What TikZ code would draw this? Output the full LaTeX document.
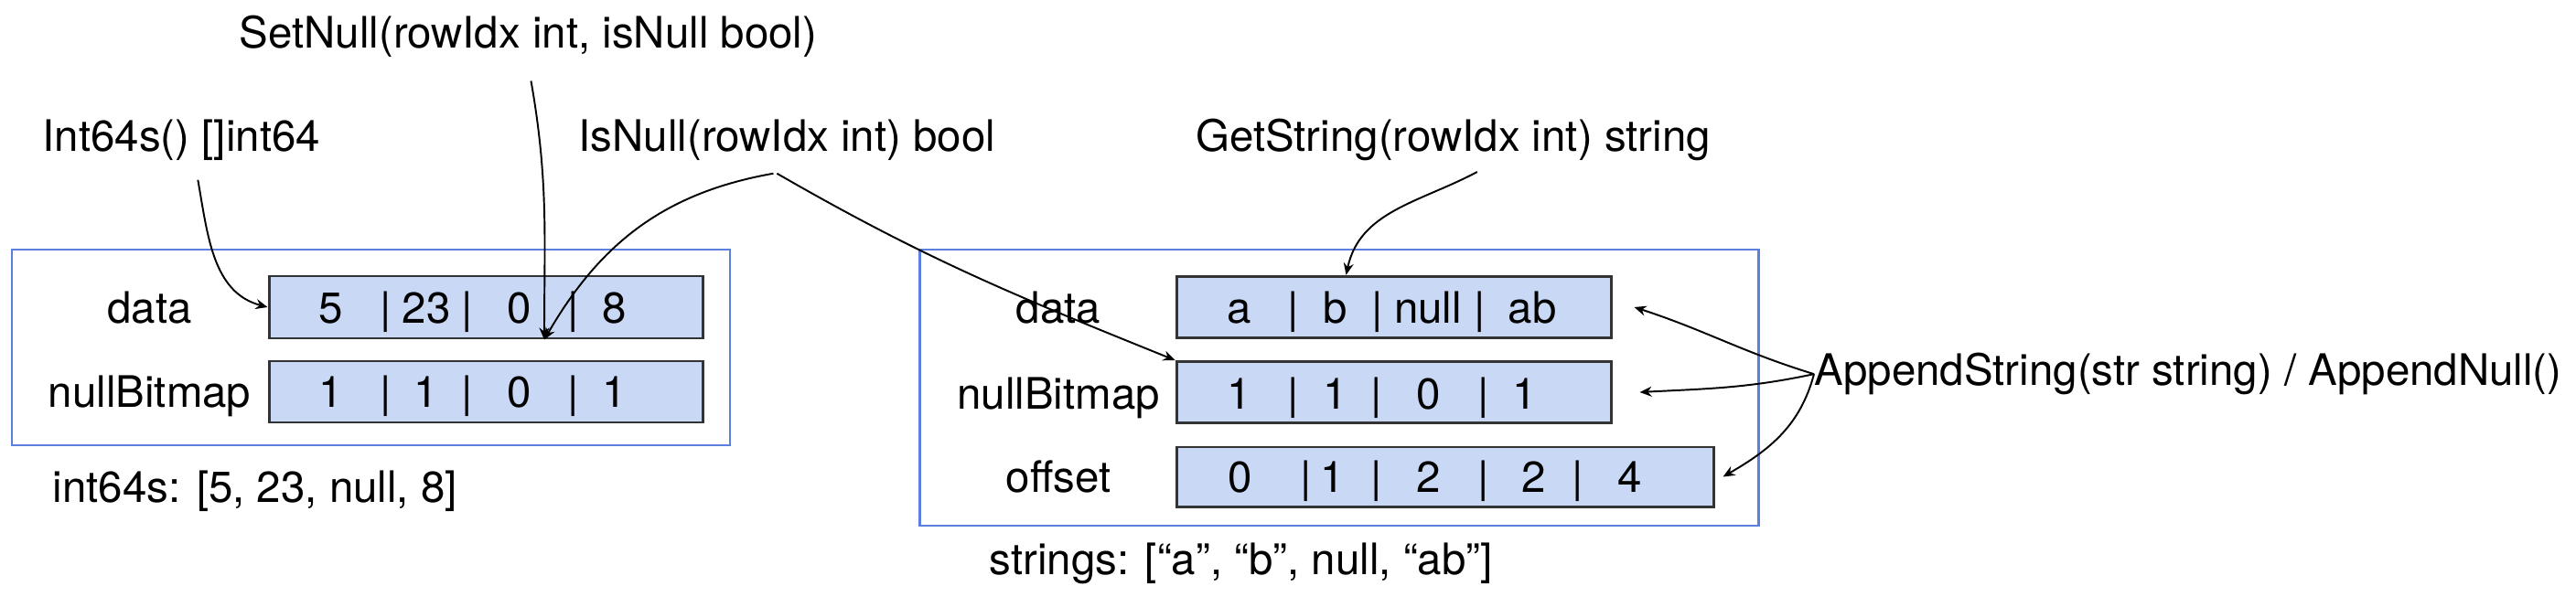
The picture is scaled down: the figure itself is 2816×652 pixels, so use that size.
\documentclass[tikz,border=0pt]{standalone}
\usepackage{fontspec}
\setmainfont{TeX Gyre Heros}
\usetikzlibrary{arrows.meta}

\definecolor{frameblue}{RGB}{92,128,222}
\definecolor{cellblue}{RGB}{201,216,244}

\begin{document}
\begin{tikzpicture}[x=0.1mm,y=0.1mm,
    font=\fontsize{13.5pt}{15pt}\selectfont,
    colframe/.style={draw=frameblue, line width=0.7pt, inner sep=0pt},
    cellbar/.style={draw=black!80, fill=cellblue, line width=0.85pt, inner sep=0pt},
    txt/.style={inner sep=0pt, anchor=base west},
    val/.style={inner sep=0pt, anchor=base},
    call/.style={-{Stealth[length=1.3mm,width=1.1mm]}, line width=0.55pt}]
  \useasboundingbox (0,0) rectangle (2816,-652);

  % int64 column
  \node[colframe, minimum width=78.5mm, minimum height=21.35mm] (colL) at (405.5,-380) {};
  \node[cellbar, minimum width=47.4mm, minimum height=6.8mm] (dataL) at (531,-336) {};
  \node[cellbar, minimum width=47.4mm, minimum height=6.7mm] (nullL) at (531,-428.5) {};
  \node[val] (dataLlbl) at (163.6,-353.5) {data};
  \node[val] (nullLlbl) at (163.6,-445.5) {nullBitmap};
  \foreach \x/\v [count=\i] in {361.6/5, 422/|, 466/23, 511/|, 568/0, 627/|, 671.6/8}
    \node[val] (dL\i) at (\x,-353.5) {\v};
  \foreach \x/\v [count=\i] in {361.6/1, 422/|, 466/1, 511/|, 568/0, 627/|, 671.6/1}
    \node[val] (nL\i) at (\x,-445.5) {\v};
  \node[txt] (i64list) at (57,-549) {int64s: [5, 23, null, 8]};

  % string column
  \node[colframe, minimum width=91.7mm, minimum height=30.2mm] (colR) at (1464,-424) {};
  \node[cellbar, minimum width=47.5mm, minimum height=6.75mm] (dataR) at (1523.5,-336) {};
  \node[cellbar, minimum width=47.5mm, minimum height=6.7mm] (nullR) at (1523.5,-429) {};
  \node[cellbar, minimum width=58.7mm, minimum height=6.5mm] (offR) at (1579.5,-521.5) {};
  \node[val] (dataRlbl) at (1157,-353) {data};
  \node[val] (nullRlbl) at (1157,-447) {nullBitmap};
  \node[val] (offRlbl) at (1157,-538) {offset};
  \foreach \x/\v [count=\i] in {1355/a, 1413.6/|, 1460/b, 1506/|, 1561/null, 1617.7/|, 1675/ab}
    \node[val] (dR\i) at (\x,-353) {\v};
  \foreach \x/\v [count=\i] in {1355/1, 1413.6/|, 1460/1, 1505/|, 1562/0, 1621.6/|, 1667/1}
    \node[val] (nR\i) at (\x,-447) {\v};
  \foreach \x/\v [count=\i] in {1356/0, 1428/|, 1457/1, 1505/|, 1562/2, 1621.6/|, 1677/2, 1725/|, 1782/4}
    \node[val] (oR\i) at (\x,-538) {\v};
  \node[txt] (strlist) at (1081,-628) {strings: [“a”, “b”, null, “ab”]};

  % methods
  \node[txt] (setnull) at (261,-52.7) {SetNull(rowIdx int, isNull bool)};
  \node[txt] (int64s) at (46,-166) {Int64s() []int64};
  \node[txt] (isnull) at (632,-166) {IsNull(rowIdx int) bool};
  \node[txt] (getstr) at (1307,-165) {GetString(rowIdx int) string};
  \node[txt] (append) at (1983,-421.7) {AppendString(str string) / AppendNull()};

  \coordinate (hitL) at ([xshift=6.4mm,yshift=2.2mm]nullL.north);

  \draw[call] ([xshift=1.8mm,yshift=-2mm]int64s.south) to[out=-80,in=165] (dataL.west);
  \draw[call] ([xshift=0.3mm,yshift=-2.5mm]setnull.south) to[out=-80,in=90] (hitL);
  \draw[call] ([xshift=-1.5mm,yshift=-1.3mm]isnull.south) to[out=190,in=60] (hitL);
  \draw[call] ([xshift=-1.1mm,yshift=-1.3mm]isnull.south) to[out=-30,in=158] (nullR.north west);
  \draw[call] ([xshift=2.6mm,yshift=-1.2mm]getstr.south) to[out=208,in=78] ([xshift=-5.2mm]dataR.north);
  \draw[call] (append.west) to[out=163,in=-18] ([xshift=2.4mm]dataR.east);
  \draw[call] (append.west) to[out=192,in=3] ([xshift=3mm]nullR.east);
  \draw[call] (append.west) to[out=-105,in=30] ([xshift=0.9mm]offR.east);
\end{tikzpicture}
\end{document}
